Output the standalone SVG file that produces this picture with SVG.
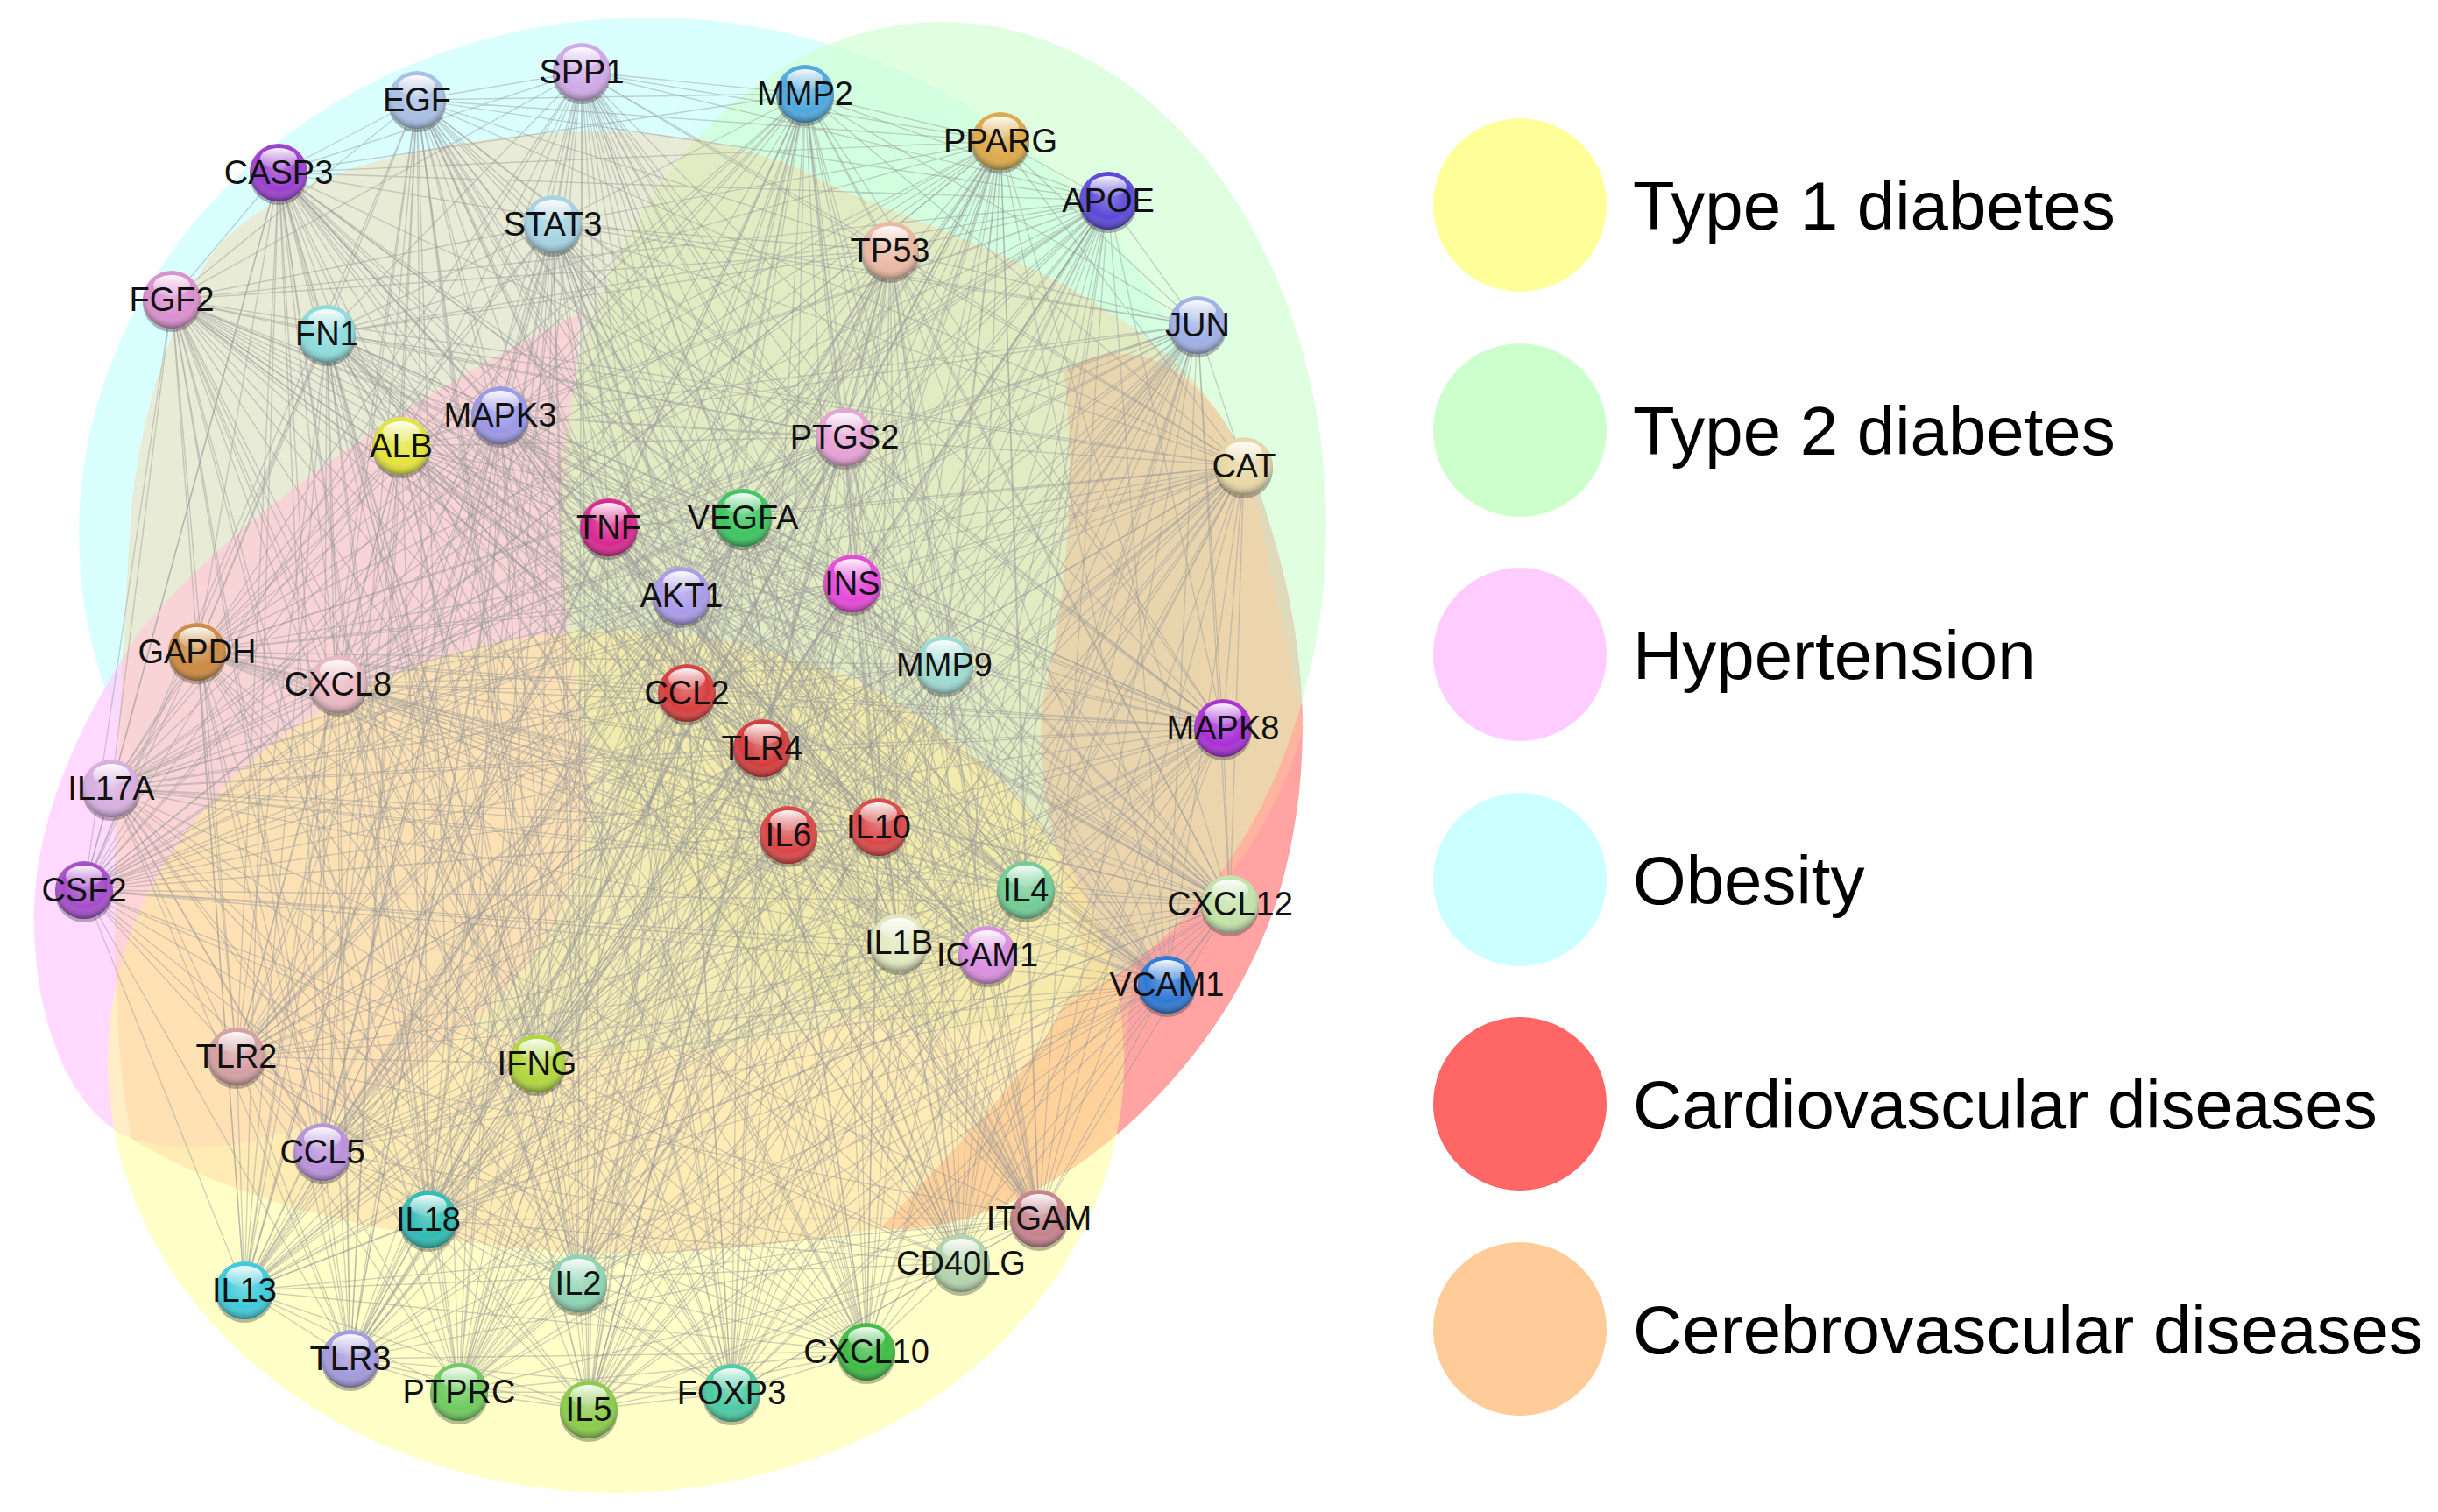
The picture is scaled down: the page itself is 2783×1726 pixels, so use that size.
<svg xmlns="http://www.w3.org/2000/svg" xmlns:xlink="http://www.w3.org/1999/xlink" width="2783" height="1726" viewBox="0 0 2783 1726">
<style>
.lbl{font-family:"Liberation Sans",Arial,sans-serif;font-size:38px;fill:#111;text-anchor:middle}
.leg{font-family:"Liberation Sans",Arial,sans-serif;font-size:78px;fill:#000}
.edge{fill:none;stroke:#9a9a9a;stroke-width:1.4;stroke-opacity:.45;stroke-linejoin:round}
.sh{fill:#333;opacity:.35}
</style>
<defs>
<radialGradient id="shade" cx="50%" cy="42%" r="58%">
<stop offset="0" stop-color="#fff" stop-opacity=".3"/>
<stop offset=".65" stop-color="#fff" stop-opacity="0"/>
<stop offset="1" stop-color="#000" stop-opacity=".38"/>
</radialGradient>
<linearGradient id="hl" x1="0" y1="0" x2="0" y2="1">
<stop offset="0" stop-color="#fff" stop-opacity=".95"/>
<stop offset="1" stop-color="#fff" stop-opacity=".1"/>
</linearGradient>
<g id="gloss"><circle r="33" fill="url(#shade)"/><ellipse cy="-16" rx="21" ry="12" fill="url(#hl)"/></g>
<circle id="shadow" cy="4" r="33" class="sh"/>
</defs>
<rect width="2783" height="1726" fill="#fff"/>
<g id="regions">
<ellipse id="obesity" cx="740" cy="610" rx="650" ry="590" fill="#ccffff" fill-opacity=".75"/>
<path id="hypertension" d="M40,1080 C30,960 80,840 160,720 C260,600 450,460 663,357 C650,500 640,650 660,800 C700,950 640,1100 500,1200 C380,1290 250,1330 150,1300 C80,1270 45,1170 40,1080 Z" fill="#ffccff" fill-opacity=".75"/>
<path id="cvd" d="M1215,425 C1290,370 1400,420 1450,600 C1500,760 1495,900 1460,1020 C1420,1150 1330,1260 1230,1330 C1150,1385 1060,1410 1005,1402 C1100,1300 1200,1200 1240,1100 C1215,1000 1180,900 1190,800 C1215,700 1230,560 1215,425 Z" fill="#ff6666" fill-opacity=".6"/>
<ellipse id="t2d" cx="1076" cy="600" rx="438" ry="575" fill="#ccffcc" fill-opacity=".6"/>
<ellipse id="t1d" cx="703" cy="1212" rx="580" ry="492" fill="#ffff99" fill-opacity=".55"/>
<path id="cerebro" d="M148,612 C150,520 190,360 245,286 C300,220 420,170 612,153 C760,140 880,170 954,214 C1060,260 1200,300 1311,388 C1380,440 1420,500 1440,600 C1460,700 1480,780 1488,830 C1450,960 1380,1040 1300,1094 C1285,1150 1285,1200 1282,1250 C1250,1330 1130,1390 1005,1402 C850,1430 700,1440 550,1420 C380,1400 250,1360 150,1300 C120,1150 130,900 148,612 Z" fill="#ffcc99" fill-opacity=".4"/>
</g>
<g id="connectors">
<path class="edge" d="M664 82L476 114 672 1609 919 107 524 1589 1142 161 989 1543 318 197 400 1551 1265 229 660 1465 631 256 279 1473 1016 286 1097 1442 196 342 489 1392 373 381 1186 1391 1367 371 368 1315 571 474 613 1214 458 509 270 1206 964 499 1332 1124 1420 532 1127 1090 695 602 1026 1076 848 591 1404 1032 973 666 1171 1016 778 680 96 1016 225 744 1003 944 386 781 900 953 1078 759 127 900 784 791 870 854 1396 831 835 1590Z"/>
<path class="edge" d="M476 114L919 107 664 82 1142 161 672 1609 318 197 524 1589 1265 229 989 1543 631 256 400 1551 1016 286 660 1465 196 342 279 1473 373 381 1097 1442 1367 371 489 1392 571 474 1186 1391 458 509 368 1315 964 499 613 1214 1420 532 270 1206 695 602 1332 1124 848 591 1127 1090 973 666 1026 1076 778 680 1404 1032 225 744 1171 1016 386 781 96 1016 1078 759 1003 944 784 791 900 953 1396 831 127 900 870 854 835 1590Z"/>
<path class="edge" d="M919 107L1142 161 476 114 318 197 664 82 1265 229 672 1609 631 256 524 1589 1016 286 989 1543 196 342 400 1551 373 381 660 1465 1367 371 279 1473 571 474 1097 1442 458 509 489 1392 964 499 1186 1391 1420 532 368 1315 695 602 613 1214 848 591 270 1206 973 666 1332 1124 778 680 1127 1090 225 744 1026 1076 386 781 1404 1032 1078 759 1171 1016 784 791 96 1016 1396 831 1003 944 870 854 900 953 127 900 835 1590Z"/>
<path class="edge" d="M1142 161L318 197 919 107 1265 229 476 114 631 256 664 82 1016 286 672 1609 196 342 524 1589 373 381 989 1543 1367 371 400 1551 571 474 660 1465 458 509 279 1473 964 499 1097 1442 1420 532 489 1392 695 602 1186 1391 848 591 368 1315 973 666 613 1214 778 680 270 1206 225 744 1332 1124 386 781 1127 1090 1078 759 1026 1076 784 791 1404 1032 1396 831 1171 1016 870 854 96 1016 127 900 1003 944 900 953 835 1590Z"/>
<path class="edge" d="M318 197L1265 229 1142 161 631 256 919 107 1016 286 476 114 196 342 664 82 373 381 672 1609 1367 371 524 1589 571 474 989 1543 458 509 400 1551 964 499 660 1465 1420 532 279 1473 695 602 1097 1442 848 591 489 1392 973 666 1186 1391 778 680 368 1315 225 744 613 1214 386 781 270 1206 1078 759 1332 1124 784 791 1127 1090 1396 831 1026 1076 870 854 1404 1032 127 900 1171 1016 900 953 96 1016 1003 944 835 1590Z"/>
<path class="edge" d="M631 256L1016 286 1265 229 196 342 318 197 373 381 1142 161 1367 371 919 107 571 474 476 114 458 509 664 82 964 499 672 1609 1420 532 524 1589 695 602 989 1543 848 591 400 1551 973 666 660 1465 778 680 279 1473 225 744 1097 1442 386 781 489 1392 1078 759 1186 1391 784 791 368 1315 1396 831 613 1214 870 854 270 1206 127 900 1332 1124 900 953 1127 1090 1003 944 1026 1076 96 1016 1404 1032 1171 1016 835 1590Z"/>
<path class="edge" d="M1016 286L196 342 631 256 373 381 1265 229 1367 371 318 197 571 474 1142 161 458 509 919 107 964 499 476 114 1420 532 664 82 695 602 672 1609 848 591 524 1589 973 666 989 1543 778 680 400 1551 225 744 660 1465 386 781 279 1473 1078 759 1097 1442 784 791 489 1392 1396 831 1186 1391 870 854 368 1315 127 900 613 1214 900 953 270 1206 1003 944 1332 1124 96 1016 1127 1090 1171 1016 1026 1076 1404 1032 835 1590Z"/>
<path class="edge" d="M196 342L373 381 1016 286 1367 371 631 256 571 474 1265 229 458 509 318 197 964 499 1142 161 1420 532 919 107 695 602 476 114 848 591 664 82 973 666 672 1609 778 680 524 1589 225 744 989 1543 386 781 400 1551 1078 759 660 1465 784 791 279 1473 1396 831 1097 1442 870 854 489 1392 127 900 1186 1391 900 953 368 1315 1003 944 613 1214 96 1016 270 1206 1171 1016 1332 1124 1404 1032 1127 1090 1026 1076 835 1590Z"/>
<path class="edge" d="M1367 371L571 474 373 381 458 509 196 342 964 499 1016 286 1420 532 631 256 695 602 1265 229 848 591 318 197 973 666 1142 161 778 680 919 107 225 744 476 114 386 781 664 82 1078 759 672 1609 784 791 524 1589 1396 831 989 1543 870 854 400 1551 127 900 660 1465 900 953 279 1473 1003 944 1097 1442 96 1016 489 1392 1171 1016 1186 1391 1404 1032 368 1315 1026 1076 613 1214 1127 1090 270 1206 1332 1124 835 1590Z"/>
<path class="edge" d="M571 474L458 509 1367 371 964 499 373 381 1420 532 196 342 695 602 1016 286 848 591 631 256 973 666 1265 229 778 680 318 197 225 744 1142 161 386 781 919 107 1078 759 476 114 784 791 664 82 1396 831 672 1609 870 854 524 1589 127 900 989 1543 900 953 400 1551 1003 944 660 1465 96 1016 279 1473 1171 1016 1097 1442 1404 1032 489 1392 1026 1076 1186 1391 1127 1090 368 1315 1332 1124 613 1214 270 1206 835 1590Z"/>
<path class="edge" d="M458 509L964 499 571 474 1420 532 1367 371 695 602 373 381 848 591 196 342 973 666 1016 286 778 680 631 256 225 744 1265 229 386 781 318 197 1078 759 1142 161 784 791 919 107 1396 831 476 114 870 854 664 82 127 900 672 1609 900 953 524 1589 1003 944 989 1543 96 1016 400 1551 1171 1016 660 1465 1404 1032 279 1473 1026 1076 1097 1442 1127 1090 489 1392 1332 1124 1186 1391 270 1206 368 1315 613 1214 835 1590Z"/>
<path class="edge" d="M1420 532L695 602 964 499 848 591 458 509 973 666 571 474 778 680 1367 371 225 744 373 381 386 781 196 342 1078 759 1016 286 784 791 631 256 1396 831 1265 229 870 854 318 197 127 900 1142 161 900 953 919 107 1003 944 476 114 96 1016 664 82 1171 1016 672 1609 1404 1032 524 1589 1026 1076 989 1543 1127 1090 400 1551 1332 1124 660 1465 270 1206 279 1473 613 1214 1097 1442 368 1315 489 1392 1186 1391 835 1590Z"/>
<path class="edge" d="M695 602L848 591 1420 532 973 666 964 499 778 680 458 509 225 744 571 474 386 781 1367 371 1078 759 373 381 784 791 196 342 1396 831 1016 286 870 854 631 256 127 900 1265 229 900 953 318 197 1003 944 1142 161 96 1016 919 107 1171 1016 476 114 1404 1032 664 82 1026 1076 672 1609 1127 1090 524 1589 1332 1124 989 1543 270 1206 400 1551 613 1214 660 1465 368 1315 279 1473 1186 1391 1097 1442 489 1392 835 1590Z"/>
<path class="edge" d="M848 591L973 666 695 602 778 680 1420 532 225 744 964 499 386 781 458 509 1078 759 571 474 784 791 1367 371 1396 831 373 381 870 854 196 342 127 900 1016 286 900 953 631 256 1003 944 1265 229 96 1016 318 197 1171 1016 1142 161 1404 1032 919 107 1026 1076 476 114 1127 1090 664 82 1332 1124 672 1609 270 1206 524 1589 613 1214 989 1543 368 1315 400 1551 1186 1391 660 1465 489 1392 279 1473 1097 1442 835 1590Z"/>
<path class="edge" d="M778 680L225 744 973 666 386 781 848 591 1078 759 695 602 784 791 1420 532 1396 831 964 499 870 854 458 509 127 900 571 474 900 953 1367 371 1003 944 373 381 96 1016 196 342 1171 1016 1016 286 1404 1032 631 256 1026 1076 1265 229 1127 1090 318 197 1332 1124 1142 161 270 1206 919 107 613 1214 476 114 368 1315 664 82 1186 1391 672 1609 489 1392 524 1589 1097 1442 989 1543 279 1473 400 1551 660 1465 835 1590Z"/>
<path class="edge" d="M225 744L386 781 778 680 1078 759 973 666 784 791 848 591 1396 831 695 602 870 854 1420 532 127 900 964 499 900 953 458 509 1003 944 571 474 96 1016 1367 371 1171 1016 373 381 1404 1032 196 342 1026 1076 1016 286 1127 1090 631 256 1332 1124 1265 229 270 1206 318 197 613 1214 1142 161 368 1315 919 107 1186 1391 476 114 489 1392 664 82 1097 1442 672 1609 279 1473 524 1589 660 1465 989 1543 400 1551 835 1590Z"/>
<path class="edge" d="M386 781L1078 759 225 744 784 791 778 680 1396 831 973 666 870 854 848 591 127 900 695 602 900 953 1420 532 1003 944 964 499 96 1016 458 509 1171 1016 571 474 1404 1032 1367 371 1026 1076 373 381 1127 1090 196 342 1332 1124 1016 286 270 1206 631 256 613 1214 1265 229 368 1315 318 197 1186 1391 1142 161 489 1392 919 107 1097 1442 476 114 279 1473 664 82 660 1465 672 1609 400 1551 524 1589 989 1543 835 1590Z"/>
<path class="edge" d="M1078 759L784 791 386 781 1396 831 225 744 870 854 778 680 127 900 973 666 900 953 848 591 1003 944 695 602 96 1016 1420 532 1171 1016 964 499 1404 1032 458 509 1026 1076 571 474 1127 1090 1367 371 1332 1124 373 381 270 1206 196 342 613 1214 1016 286 368 1315 631 256 1186 1391 1265 229 489 1392 318 197 1097 1442 1142 161 279 1473 919 107 660 1465 476 114 400 1551 664 82 989 1543 672 1609 524 1589 835 1590Z"/>
<path class="edge" d="M784 791L1396 831 1078 759 870 854 386 781 127 900 225 744 900 953 778 680 1003 944 973 666 96 1016 848 591 1171 1016 695 602 1404 1032 1420 532 1026 1076 964 499 1127 1090 458 509 1332 1124 571 474 270 1206 1367 371 613 1214 373 381 368 1315 196 342 1186 1391 1016 286 489 1392 631 256 1097 1442 1265 229 279 1473 318 197 660 1465 1142 161 400 1551 919 107 989 1543 476 114 524 1589 664 82 672 1609 835 1590Z"/>
</g>
<g id="nodes">
<g id="n-SPP1"><use href="#shadow" x="664" y="82"/><circle cx="664" cy="82" r="33" fill="#cfa9e8"/><use href="#gloss" x="664" y="82"/><text class="lbl" x="664" y="95">SPP1</text></g>
<g id="n-EGF"><use href="#shadow" x="476" y="114"/><circle cx="476" cy="114" r="33" fill="#a9c0e3"/><use href="#gloss" x="476" y="114"/><text class="lbl" x="476" y="127">EGF</text></g>
<g id="n-MMP2"><use href="#shadow" x="919" y="107"/><circle cx="919" cy="107" r="33" fill="#4ea8de"/><use href="#gloss" x="919" y="107"/><text class="lbl" x="919" y="120">MMP2</text></g>
<g id="n-PPARG"><use href="#shadow" x="1142" y="161"/><circle cx="1142" cy="161" r="33" fill="#dca94a"/><use href="#gloss" x="1142" y="161"/><text class="lbl" x="1142" y="174">PPARG</text></g>
<g id="n-CASP3"><use href="#shadow" x="318" y="197"/><circle cx="318" cy="197" r="33" fill="#9b3fd0"/><use href="#gloss" x="318" y="197"/><text class="lbl" x="318" y="210">CASP3</text></g>
<g id="n-APOE"><use href="#shadow" x="1265" y="229"/><circle cx="1265" cy="229" r="33" fill="#5a48d8"/><use href="#gloss" x="1265" y="229"/><text class="lbl" x="1265" y="242">APOE</text></g>
<g id="n-STAT3"><use href="#shadow" x="631" y="256"/><circle cx="631" cy="256" r="33" fill="#a6d3e3"/><use href="#gloss" x="631" y="256"/><text class="lbl" x="631" y="269">STAT3</text></g>
<g id="n-TP53"><use href="#shadow" x="1016" y="286"/><circle cx="1016" cy="286" r="33" fill="#eab9a2"/><use href="#gloss" x="1016" y="286"/><text class="lbl" x="1016" y="299">TP53</text></g>
<g id="n-FGF2"><use href="#shadow" x="196" y="342"/><circle cx="196" cy="342" r="33" fill="#db8fcf"/><use href="#gloss" x="196" y="342"/><text class="lbl" x="196" y="355">FGF2</text></g>
<g id="n-FN1"><use href="#shadow" x="373" y="381"/><circle cx="373" cy="381" r="33" fill="#8ddcdc"/><use href="#gloss" x="373" y="381"/><text class="lbl" x="373" y="394">FN1</text></g>
<g id="n-JUN"><use href="#shadow" x="1367" y="371"/><circle cx="1367" cy="371" r="33" fill="#9fb0e6"/><use href="#gloss" x="1367" y="371"/><text class="lbl" x="1367" y="384">JUN</text></g>
<g id="n-MAPK3"><use href="#shadow" x="571" y="474"/><circle cx="571" cy="474" r="33" fill="#9a98e6"/><use href="#gloss" x="571" y="474"/><text class="lbl" x="571" y="487">MAPK3</text></g>
<g id="n-ALB"><use href="#shadow" x="458" y="509"/><circle cx="458" cy="509" r="33" fill="#e4e43c"/><use href="#gloss" x="458" y="509"/><text class="lbl" x="458" y="522">ALB</text></g>
<g id="n-PTGS2"><use href="#shadow" x="964" y="499"/><circle cx="964" cy="499" r="33" fill="#e6a2d6"/><use href="#gloss" x="964" y="499"/><text class="lbl" x="964" y="512">PTGS2</text></g>
<g id="n-CAT"><use href="#shadow" x="1420" y="532"/><circle cx="1420" cy="532" r="33" fill="#e8d8a6"/><use href="#gloss" x="1420" y="532"/><text class="lbl" x="1420" y="545">CAT</text></g>
<g id="n-TNF"><use href="#shadow" x="695" y="602"/><circle cx="695" cy="602" r="33" fill="#d8288f"/><use href="#gloss" x="695" y="602"/><text class="lbl" x="695" y="615">TNF</text></g>
<g id="n-VEGFA"><use href="#shadow" x="848" y="591"/><circle cx="848" cy="591" r="33" fill="#3cc560"/><use href="#gloss" x="848" y="591"/><text class="lbl" x="848" y="604">VEGFA</text></g>
<g id="n-INS"><use href="#shadow" x="973" y="666"/><circle cx="973" cy="666" r="33" fill="#e648d8"/><use href="#gloss" x="973" y="666"/><text class="lbl" x="973" y="679">INS</text></g>
<g id="n-AKT1"><use href="#shadow" x="778" y="680"/><circle cx="778" cy="680" r="33" fill="#a99be8"/><use href="#gloss" x="778" y="680"/><text class="lbl" x="778" y="693">AKT1</text></g>
<g id="n-GAPDH"><use href="#shadow" x="225" y="744"/><circle cx="225" cy="744" r="33" fill="#cc8a42"/><use href="#gloss" x="225" y="744"/><text class="lbl" x="225" y="757">GAPDH</text></g>
<g id="n-CXCL8"><use href="#shadow" x="386" y="781"/><circle cx="386" cy="781" r="33" fill="#eab8c2"/><use href="#gloss" x="386" y="781"/><text class="lbl" x="386" y="794">CXCL8</text></g>
<g id="n-MMP9"><use href="#shadow" x="1078" y="759"/><circle cx="1078" cy="759" r="33" fill="#9edbd3"/><use href="#gloss" x="1078" y="759"/><text class="lbl" x="1078" y="772">MMP9</text></g>
<g id="n-CCL2"><use href="#shadow" x="784" y="791"/><circle cx="784" cy="791" r="33" fill="#d83e3e"/><use href="#gloss" x="784" y="791"/><text class="lbl" x="784" y="804">CCL2</text></g>
<g id="n-MAPK8"><use href="#shadow" x="1396" y="831"/><circle cx="1396" cy="831" r="33" fill="#a82fd4"/><use href="#gloss" x="1396" y="831"/><text class="lbl" x="1396" y="844">MAPK8</text></g>
<g id="n-TLR4"><use href="#shadow" x="870" y="854"/><circle cx="870" cy="854" r="33" fill="#d43c3c"/><use href="#gloss" x="870" y="854"/><text class="lbl" x="870" y="867">TLR4</text></g>
<g id="n-IL17A"><use href="#shadow" x="127" y="900"/><circle cx="127" cy="900" r="33" fill="#d7aee0"/><use href="#gloss" x="127" y="900"/><text class="lbl" x="127" y="913">IL17A</text></g>
<g id="n-IL6"><use href="#shadow" x="900" y="953"/><circle cx="900" cy="953" r="33" fill="#db4545"/><use href="#gloss" x="900" y="953"/><text class="lbl" x="900" y="966">IL6</text></g>
<g id="n-IL10"><use href="#shadow" x="1003" y="944"/><circle cx="1003" cy="944" r="33" fill="#d94848"/><use href="#gloss" x="1003" y="944"/><text class="lbl" x="1003" y="957">IL10</text></g>
<g id="n-CSF2"><use href="#shadow" x="96" y="1016"/><circle cx="96" cy="1016" r="33" fill="#a64ccb"/><use href="#gloss" x="96" y="1016"/><text class="lbl" x="96" y="1029">CSF2</text></g>
<g id="n-IL4"><use href="#shadow" x="1171" y="1016"/><circle cx="1171" cy="1016" r="33" fill="#72cc94"/><use href="#gloss" x="1171" y="1016"/><text class="lbl" x="1171" y="1029">IL4</text></g>
<g id="n-CXCL12"><use href="#shadow" x="1404" y="1032"/><circle cx="1404" cy="1032" r="33" fill="#c3e3a9"/><use href="#gloss" x="1404" y="1032"/><text class="lbl" x="1404" y="1045">CXCL12</text></g>
<g id="n-IL1B"><use href="#shadow" x="1026" y="1076"/><circle cx="1026" cy="1076" r="33" fill="#e2e9bf"/><use href="#gloss" x="1026" y="1076"/><text class="lbl" x="1026" y="1089">IL1B</text></g>
<g id="n-ICAM1"><use href="#shadow" x="1127" y="1090"/><circle cx="1127" cy="1090" r="33" fill="#d98ee0"/><use href="#gloss" x="1127" y="1090"/><text class="lbl" x="1127" y="1103">ICAM1</text></g>
<g id="n-VCAM1"><use href="#shadow" x="1332" y="1124"/><circle cx="1332" cy="1124" r="33" fill="#2f78d4"/><use href="#gloss" x="1332" y="1124"/><text class="lbl" x="1332" y="1137">VCAM1</text></g>
<g id="n-TLR2"><use href="#shadow" x="270" y="1206"/><circle cx="270" cy="1206" r="33" fill="#d4a0a2"/><use href="#gloss" x="270" y="1206"/><text class="lbl" x="270" y="1219">TLR2</text></g>
<g id="n-IFNG"><use href="#shadow" x="613" y="1214"/><circle cx="613" cy="1214" r="33" fill="#b2d63e"/><use href="#gloss" x="613" y="1214"/><text class="lbl" x="613" y="1227">IFNG</text></g>
<g id="n-CCL5"><use href="#shadow" x="368" y="1315"/><circle cx="368" cy="1315" r="33" fill="#ba92dc"/><use href="#gloss" x="368" y="1315"/><text class="lbl" x="368" y="1328">CCL5</text></g>
<g id="n-ITGAM"><use href="#shadow" x="1186" y="1391"/><circle cx="1186" cy="1391" r="33" fill="#c4828c"/><use href="#gloss" x="1186" y="1391"/><text class="lbl" x="1186" y="1404">ITGAM</text></g>
<g id="n-IL18"><use href="#shadow" x="489" y="1392"/><circle cx="489" cy="1392" r="33" fill="#2fbcb4"/><use href="#gloss" x="489" y="1392"/><text class="lbl" x="489" y="1405">IL18</text></g>
<g id="n-CD40LG"><use href="#shadow" x="1097" y="1442"/><circle cx="1097" cy="1442" r="33" fill="#b3d4ac"/><use href="#gloss" x="1097" y="1442"/><text class="lbl" x="1097" y="1455">CD40LG</text></g>
<g id="n-IL13"><use href="#shadow" x="279" y="1473"/><circle cx="279" cy="1473" r="33" fill="#3fcadb"/><use href="#gloss" x="279" y="1473"/><text class="lbl" x="279" y="1486">IL13</text></g>
<g id="n-IL2"><use href="#shadow" x="660" y="1465"/><circle cx="660" cy="1465" r="33" fill="#8fd4b3"/><use href="#gloss" x="660" y="1465"/><text class="lbl" x="660" y="1478">IL2</text></g>
<g id="n-TLR3"><use href="#shadow" x="400" y="1551"/><circle cx="400" cy="1551" r="33" fill="#a39add"/><use href="#gloss" x="400" y="1551"/><text class="lbl" x="400" y="1564">TLR3</text></g>
<g id="n-CXCL10"><use href="#shadow" x="989" y="1543"/><circle cx="989" cy="1543" r="33" fill="#3fbb44"/><use href="#gloss" x="989" y="1543"/><text class="lbl" x="989" y="1556">CXCL10</text></g>
<g id="n-PTPRC"><use href="#shadow" x="524" y="1589"/><circle cx="524" cy="1589" r="33" fill="#6fcb5f"/><use href="#gloss" x="524" y="1589"/><text class="lbl" x="524" y="1602">PTPRC</text></g>
<g id="n-IL5"><use href="#shadow" x="672" y="1609"/><circle cx="672" cy="1609" r="33" fill="#8bcb4a"/><use href="#gloss" x="672" y="1609"/><text class="lbl" x="672" y="1622">IL5</text></g>
<g id="n-FOXP3"><use href="#shadow" x="835" y="1590"/><circle cx="835" cy="1590" r="33" fill="#4ccba3"/><use href="#gloss" x="835" y="1590"/><text class="lbl" x="835" y="1603">FOXP3</text></g>
</g>
<g id="legend">
<g id="leg-t1d"><circle cx="1735" cy="234" r="99" fill="#ffff99"/><text class="leg" x="1864" y="262">Type 1 diabetes</text></g>
<g id="leg-t2d"><circle cx="1735" cy="491" r="99" fill="#ccffcc"/><text class="leg" x="1864" y="519">Type 2 diabetes</text></g>
<g id="leg-hyp"><circle cx="1735" cy="747" r="99" fill="#ffccff"/><text class="leg" x="1864" y="775">Hypertension</text></g>
<g id="leg-obe"><circle cx="1735" cy="1004" r="99" fill="#ccffff"/><text class="leg" x="1864" y="1032">Obesity</text></g>
<g id="leg-cvd"><circle cx="1735" cy="1260" r="99" fill="#ff6666"/><text class="leg" x="1864" y="1288">Cardiovascular diseases</text></g>
<g id="leg-cer"><circle cx="1735" cy="1517" r="99" fill="#ffcc99"/><text class="leg" x="1864" y="1545">Cerebrovascular diseases</text></g>
</g>
</svg>
